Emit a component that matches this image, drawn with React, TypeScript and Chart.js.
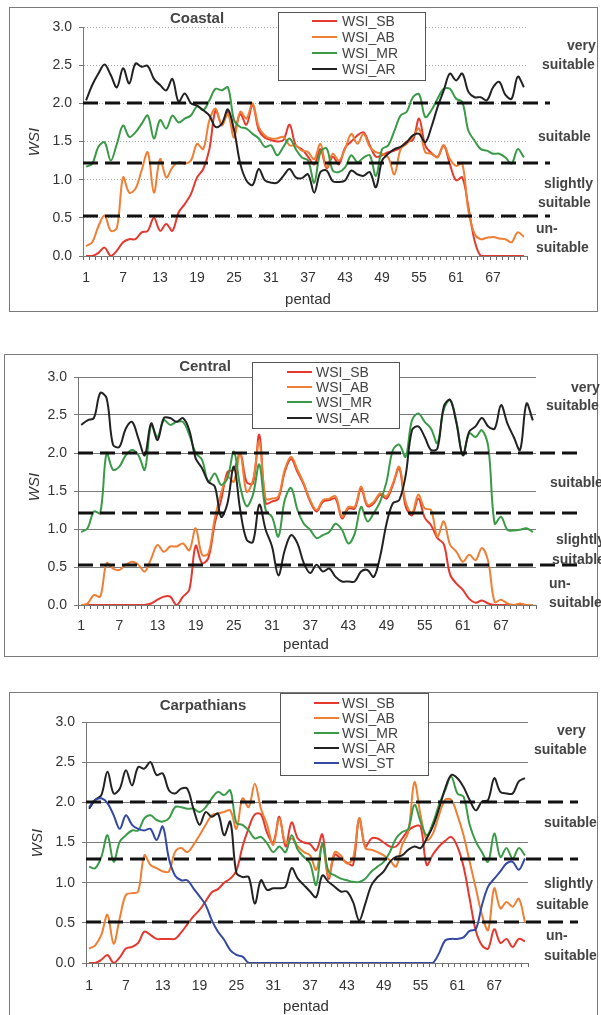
import React, { useEffect, useRef } from 'react';
import { Chart, registerables } from 'chart.js';

Chart.register(...registerables);

const FONT = '"Liberation Sans", Arial, Helvetica, sans-serif';

const pentads = ['1','2','3','4','5','6','7','8','9','10','11','12','13','14','15','16','17','18','19','20','21','22','23','24','25','26','27','28','29','30','31','32','33','34','35','36','37','38','39','40','41','42','43','44','45','46','47','48','49','50','51','52','53','54','55','56','57','58','59','60','61','62','63','64','65','66','67','68','69','70','71','72'];

// ---------- Coastal ----------
const coastalSB = [0,0,0.04,0.11,0,0.07,0.18,0.22,0.22,0.31, 0.33,0.5,0.33,0.42,0.33,0.57,0.68,0.81,1.03,1.14, 1.4,1.91,1.73,1.89,1.64,1.86,1.72,1.98,1.65,1.55, 1.52,1.5,1.52,1.72,1.45,1.4,1.3,1.2,1.4,1.15, 1.3,1.2,1.42,1.5,1.58,1.62,1.45,1.3,1.32,1.36, 1.38,1.42,1.5,1.52,1.8,1.45,1.35,1.3,1.45,1.2, 0.99,1.03,0.64,0.2,0,0,0,0,0,0, 0,0];
const coastalAB = [0.13,0.18,0.39,0.53,0.33,0.37,1.03,0.83,0.88,1.12, 1.36,0.83,1.27,1.03,1.16,1.23,1.21,1.25,1.47,1.4, 1.78,1.93,1.71,1.86,1.55,1.89,1.8,2.0,1.69,1.58, 1.54,1.54,1.56,1.45,1.45,1.38,1.36,1.27,1.47,1.16, 1.34,1.25,1.4,1.6,1.47,1.6,1.43,1.36,1.34,1.29, 1.07,1.4,1.47,1.56,1.67,1.36,1.34,1.29,1.45,1.27, 1.18,1.21,0.59,0.29,0.22,0.24,0.25,0.23,0.22,0.18, 0.31,0.25];
const coastalMR = [1.17,1.21,1.43,1.49,1.25,1.47,1.71,1.56,1.62,1.73, 1.84,1.54,1.78,1.67,1.84,1.75,1.8,1.84,1.96,1.91, 2.04,2.19,2.17,2.21,1.78,1.69,1.67,1.6,1.54,1.43, 1.45,1.32,1.43,1.54,1.4,1.29,1.25,0.96,1.36,1.41, 1.12,1.1,1.16,1.32,1.23,1.29,1.32,1.05,1.4,1.45, 1.64,1.84,1.89,2.08,2.12,1.82,1.91,2.06,2.19,2.19, 2.06,2.02,1.64,1.51,1.4,1.38,1.34,1.34,1.29,1.21, 1.4,1.29];
const coastalAR = [2.04,2.24,2.39,2.51,2.37,2.21,2.46,2.26,2.52,2.48, 2.49,2.32,2.24,2.17,2.32,2.02,2.13,2.0,1.97,1.91, 1.84,1.69,1.73,1.92,1.65,1.21,0.99,0.93,1.14,0.99, 0.96,0.96,1.05,1.14,1.03,1.02,1.07,0.83,1.1,1.12, 0.98,0.97,0.99,1.12,1.07,1.05,1.1,0.9,1.25,1.34, 1.4,1.43,1.49,1.58,1.6,1.49,1.69,1.95,2.17,2.39, 2.3,2.39,2.15,2.08,2.08,2.04,2.21,2.28,2.11,2.06, 2.35,2.21];
const coastalThresholds = [2.0, 1.22, 0.53];

// ---------- Central ----------
const centralSB = [0,0,0,0,0,0,0,0,0,0, 0,0.02,0.07,0.11,0.11,0,0.11,0.2,0.78,0.55, 0.62,1.07,1.38,1.75,1.78,2.0,1.62,1.6,2.24,1.34, 1.36,1.4,1.75,1.92,1.75,1.58,1.36,1.23,1.36,1.38, 1.4,1.14,1.27,1.27,1.53,1.3,1.34,1.45,1.4,1.58, 1.8,1.3,1.18,1.4,1.15,1.05,0.88,0.8,0.4,0.28, 0.2,0.08,0.03,0.06,0.02,0,0,0,0,0, 0,0];
const centralAB = [0,0.02,0.13,0.11,0.55,0.48,0.46,0.53,0.57,0.53, 0.44,0.61,0.79,0.7,0.77,0.77,0.81,0.72,1.01,0.66, 0.68,1.14,1.47,1.69,1.62,2.0,1.49,1.64,2.15,1.4, 1.4,1.43,1.78,1.95,1.78,1.6,1.38,1.25,1.38,1.4, 1.43,1.16,1.29,1.29,1.56,1.32,1.36,1.47,1.43,1.6, 1.82,1.36,1.21,1.45,1.27,1.25,0.9,1.1,0.79,0.7, 0.57,0.66,0.59,0.75,0.57,0.04,0.07,0.02,0,0.02, 0,0];
const centralMR = [0.96,1.01,1.23,1.21,2.0,1.78,1.82,1.97,2.04,1.97, 1.78,2.37,2.21,2.43,2.37,2.41,2.41,2.24,2.0,1.91, 1.62,1.73,1.58,1.67,2.02,1.56,1.3,1.45,1.85,1.25, 1.16,0.9,1.38,1.54,1.25,1.07,0.99,0.88,0.92,0.96, 1.07,0.99,0.81,0.94,1.29,1.1,1.21,1.36,1.62,2.04, 2.11,1.95,2.43,2.52,2.41,2.32,2.13,2.57,2.7,2.41, 1.97,2.26,2.21,2.3,2.08,1.07,1.16,0.99,0.98,0.99, 1.01,0.96];
const centralAR = [2.37,2.43,2.46,2.79,2.72,2.11,2.08,2.32,2.41,2.19, 1.97,2.39,2.17,2.46,2.46,2.41,2.46,2.3,1.93,1.8, 1.62,1.56,1.16,1.34,1.82,1.25,0.86,0.83,1.32,0.99, 0.77,0.39,0.72,0.92,0.81,0.55,0.42,0.53,0.44,0.48, 0.37,0.31,0.31,0.31,0.44,0.46,0.37,0.64,1.07,1.34, 1.38,1.7,2.3,2.35,2.21,2.04,2.06,2.61,2.7,2.39, 1.97,2.28,2.35,2.46,2.35,2.32,2.63,2.39,2.21,2.04, 2.65,2.43];
const centralThresholds = [2.0, 1.21, 0.52];

// ---------- Carpathians ----------
const carpSB = [0,0,0.04,0.1,0,0.07,0.18,0.2,0.25,0.39, 0.35,0.3,0.3,0.3,0.3,0.38,0.48,0.58,0.66,0.77, 0.88,0.92,1.0,1.05,1.15,1.45,1.68,1.85,1.85,1.62, 1.5,1.82,1.45,1.75,1.55,1.5,1.48,1.4,1.6,1.05, 1.35,1.3,1.25,1.22,1.8,1.45,1.55,1.55,1.5,1.45, 1.45,1.55,1.65,1.7,1.7,1.22,1.35,1.45,1.52,1.57, 1.45,1.2,0.8,0.4,0.22,0.18,0.42,0.25,0.3,0.2, 0.3,0.27];
const carpAB = [0.18,0.22,0.35,0.6,0.24,0.56,0.85,0.87,0.89,1.34, 1.22,1.18,1.14,1.14,1.38,1.43,1.38,1.47,1.59,1.72, 1.84,1.86,1.88,1.9,1.67,2.05,1.94,2.23,1.92,1.72, 1.47,1.8,1.49,1.55,1.45,1.38,1.34,1.16,1.47,1.07, 1.38,1.34,1.24,1.3,1.8,1.43,1.41,1.38,1.34,1.28, 1.2,1.47,1.63,2.25,1.84,1.53,1.61,1.84,2.03,2.03, 1.84,1.59,1.26,0.93,0.6,0.41,0.93,0.68,0.76,0.7, 0.8,0.51];
const carpMR = [1.2,1.18,1.32,1.59,1.26,1.51,1.59,1.65,1.65,1.8, 1.84,1.78,1.76,1.8,1.94,1.94,1.92,1.92,1.88,1.94, 2.05,2.13,2.09,2.15,1.74,1.72,1.65,1.55,1.57,1.49, 1.38,1.45,1.38,1.59,1.41,1.32,1.24,0.97,1.49,1.14, 1.09,1.05,1.03,1.01,1.01,1.05,1.14,1.2,1.26,1.38, 1.55,1.63,1.67,1.97,1.76,1.59,1.74,1.97,2.15,2.32, 2.11,2.07,1.72,1.51,1.38,1.26,1.61,1.32,1.43,1.3, 1.43,1.34];
const carpAR = [1.92,2.03,2.09,2.38,2.11,2.17,2.4,2.21,2.44,2.42, 2.5,2.34,2.36,2.15,2.11,2.17,2.17,1.92,1.72,1.88, 1.82,1.86,1.59,1.76,1.12,1.07,1.07,0.74,1.03,0.91, 0.93,0.93,0.95,1.18,1.05,0.97,0.89,0.82,1.09,1.01, 0.95,0.89,0.89,0.76,0.53,0.74,0.97,1.07,1.14,1.26, 1.32,1.34,1.41,1.45,1.43,1.55,1.7,1.92,2.17,2.34, 2.3,2.19,2.03,1.9,2.01,2.03,2.3,2.13,2.11,2.11, 2.26,2.3];
const carpST = [1.94,2.03,2.05,1.99,1.84,1.67,1.84,1.72,1.67,1.65, 1.67,1.53,1.7,1.3,1.09,1.03,1.03,0.93,0.83,0.72, 0.53,0.39,0.29,0.16,0.1,0.08,0,0,0,0, 0,0,0,0,0,0,0,0,0,0, 0,0,0,0,0,0,0,0,0,0, 0,0,0,0,0,0,0,0.12,0.28,0.3, 0.3,0.32,0.4,0.42,0.72,0.95,1.05,1.14,1.24,1.26, 1.16,1.3];
const carpThresholds = [2.0, 1.29, 0.51];

const yTickLabels = ['0.0', '0.5', '1.0', '1.5', '2.0', '2.5', '3.0'];
const classLabels = ['very', 'suitable', 'suitable', 'slightly', 'suitable', 'un-', 'suitable'];

const COLORS: Record<string, string> = {
  WSI_SB: '#e5382f',
  WSI_AB: '#ef7f34',
  WSI_MR: '#3a9a48',
  WSI_AR: '#222222',
  WSI_ST: '#3448a4',
};

type Series = { name: string; values: number[] };

type PanelCfg = {
  title: string;
  titlePos: [number, number];
  box: { left: number; top: number; width: number; height: number };
  area: { yWidth: number; top: number; right: number; xHeight: number };
  xPad: number;
  gridDash: number[];
  gridColor: string;
  extend: number;
  thresholds: number[];
  series: Series[];
  legendBox: { left: number; top: number; width: number; height: number };
  legendLine: [number, number];
  legendText: number;
  legendRows: number[];
  wsiPos: [number, number];
  pentadPos: [number, number];
  classPos: [number, number][];
};

const panels: PanelCfg[] = [
  {
    title: 'Coastal',
    titlePos: [197, 17],
    box: { left: 9, top: 7, width: 589, height: 305 },
    area: { yWidth: 74, top: 20, right: 71, xHeight: 56 },
    xPad: 10,
    gridDash: [1, 2],
    gridColor: '#a8a8a8',
    extend: 23,
    thresholds: coastalThresholds,
    series: [
      { name: 'WSI_SB', values: coastalSB },
      { name: 'WSI_AB', values: coastalAB },
      { name: 'WSI_MR', values: coastalMR },
      { name: 'WSI_AR', values: coastalAR },
    ],
    legendBox: { left: 278, top: 12, width: 148, height: 69 },
    legendLine: [312, 337],
    legendText: 342,
    legendRows: [21, 37, 53, 69],
    wsiPos: [33, 142],
    pentadPos: [308, 298],
    classPos: [[567, 45], [542, 64], [538, 136], [544, 183], [538, 202], [536, 228], [536, 247]],
  },
  {
    title: 'Central',
    titlePos: [205, 365],
    box: { left: 4, top: 354, width: 594, height: 303 },
    area: { yWidth: 74, top: 23, right: 62, xHeight: 52 },
    xPad: 9,
    gridDash: [],
    gridColor: '#7a7a7a',
    extend: 44,
    thresholds: centralThresholds,
    series: [
      { name: 'WSI_SB', values: centralSB },
      { name: 'WSI_AB', values: centralAB },
      { name: 'WSI_MR', values: centralMR },
      { name: 'WSI_AR', values: centralAR },
    ],
    legendBox: { left: 252, top: 362, width: 148, height: 67 },
    legendLine: [287, 312],
    legendText: 316,
    legendRows: [372, 387, 402, 418],
    wsiPos: [33, 487],
    pentadPos: [306, 643],
    classPos: [[571, 387], [546, 405], [550, 482], [556, 539], [552, 559], [549, 583], [549, 602]],
  },
  {
    title: 'Carpathians',
    titlePos: [203, 704],
    box: { left: 9, top: 692, width: 589, height: 330 },
    area: { yWidth: 77, top: 30, right: 70, xHeight: 52 },
    xPad: 11,
    gridDash: [],
    gridColor: '#7a7a7a',
    extend: 50,
    thresholds: carpThresholds,
    series: [
      { name: 'WSI_SB', values: carpSB },
      { name: 'WSI_AB', values: carpAB },
      { name: 'WSI_MR', values: carpMR },
      { name: 'WSI_AR', values: carpAR },
      { name: 'WSI_ST', values: carpST },
    ],
    legendBox: { left: 280, top: 693, width: 149, height: 83 },
    legendLine: [314, 339],
    legendText: 342,
    legendRows: [703, 718, 733, 748, 763],
    wsiPos: [36, 843],
    pentadPos: [306, 1005],
    classPos: [[557, 730], [534, 749], [544, 822], [544, 883], [536, 904], [546, 935], [544, 955]],
  },
];

const thresholdPlugin = {
  id: 'thresholds',
  afterDatasetsDraw(chart: any, _args: any, opts: any) {
    const { ctx, chartArea, scales } = chart;
    const y = scales.y;
    ctx.save();
    ctx.strokeStyle = '#111111';
    ctx.lineWidth = 3;
    ctx.setLineDash([15, 7]);
    for (const v of opts.values as number[]) {
      const py = Math.round(y.getPixelForValue(v));
      ctx.beginPath();
      ctx.moveTo(chartArea.left, py);
      ctx.lineTo(chartArea.right + opts.extend, py);
      ctx.stroke();
    }
    ctx.restore();
  },
};

function Panel({ cfg }: { cfg: PanelCfg }) {
  const ref = useRef<HTMLCanvasElement>(null);
  const canvasH = Math.min(cfg.box.height, 1015 - cfg.box.top);

  useEffect(() => {
    if (!ref.current) return;
    const n = cfg.series.length;
    const chart = new Chart(ref.current, {
      type: 'line',
      data: {
        labels: pentads,
        datasets: cfg.series.map((s, i) => ({
          label: s.name,
          data: s.values,
          borderColor: COLORS[s.name],
          backgroundColor: COLORS[s.name],
          borderWidth: 2,
          pointRadius: 0,
          tension: 0.35,
          fill: false,
          order: n - i,
        })),
      },
      options: {
        responsive: false,
        animation: false,
        events: [],
        layout: { padding: { left: 0, top: cfg.area.top, right: cfg.area.right, bottom: 0 } },
        plugins: {
          legend: { display: false },
          tooltip: { enabled: false },
          thresholds: { values: cfg.thresholds, extend: cfg.extend },
        } as any,
        scales: {
          x: {
            type: 'category',
            offset: true,
            grid: { display: true, offset: true, drawOnChartArea: false, drawTicks: true, tickLength: 4, color: '#666', lineWidth: 1 },
            border: { display: true, color: '#777', width: 1 },
            ticks: {
              autoSkip: false,
              maxRotation: 0,
              minRotation: 0,
              padding: cfg.xPad,
              color: '#333',
              font: { family: FONT, size: 14 },
              callback: (_v: any, i: number) => (i % 6 === 0 ? pentads[i] : ''),
            },
            afterFit: (s: any) => { s.height = cfg.area.xHeight; },
          },
          y: {
            min: 0,
            max: 3,
            ticks: {
              stepSize: 0.5,
              padding: 7,
              color: '#333',
              font: { family: FONT, size: 14 },
              callback: (_v: any, i: number) => yTickLabels[i],
            },
            grid: { color: cfg.gridColor, lineWidth: 1, tickLength: 4, drawTicks: true, tickColor: '#777' },
            border: { display: true, color: '#777', width: 1, dash: cfg.gridDash },
            afterFit: (s: any) => { s.width = cfg.area.yWidth; },
          },
        },
      } as any,
      plugins: [thresholdPlugin],
    });
    return () => chart.destroy();
  }, []);

  const abs = (x: number, y: number, extra: React.CSSProperties = {}): React.CSSProperties => ({
    position: 'absolute', left: x, top: y, whiteSpace: 'nowrap', lineHeight: 1, ...extra,
  });

  return (
    <>
      <canvas
        ref={ref}
        width={cfg.box.width}
        height={canvasH}
        style={{ position: 'absolute', left: cfg.box.left, top: cfg.box.top, width: cfg.box.width, height: canvasH }}
      />
      <div
        style={{
          position: 'absolute', left: cfg.box.left, top: cfg.box.top, width: cfg.box.width - 2, height: cfg.box.height - 2,
          border: '1px solid #7a7a7a', pointerEvents: 'none',
        }}
      />
      <div style={abs(cfg.titlePos[0], cfg.titlePos[1], { transform: 'translate(-50%, -50%)', fontFamily: FONT, fontWeight: 'bold', fontSize: 15, color: '#444' })}>
        {cfg.title}
      </div>
      <div style={abs(cfg.wsiPos[0], cfg.wsiPos[1], { transform: 'translate(-50%, -50%) rotate(-90deg)', fontFamily: FONT, fontStyle: 'italic', fontSize: 15, color: '#333' })}>
        WSI
      </div>
      <div style={abs(cfg.pentadPos[0], cfg.pentadPos[1], { transform: 'translate(-50%, -50%)', fontFamily: FONT, fontSize: 15, color: '#333' })}>
        pentad
      </div>
      {classLabels.map((t, i) => (
        <div key={'c' + i} style={abs(cfg.classPos[i][0], cfg.classPos[i][1], { transform: 'translateY(-50%)', fontFamily: FONT, fontWeight: 'bold', fontSize: 14, color: '#444' })}>
          {t}
        </div>
      ))}
      <div
        style={{
          position: 'absolute', left: cfg.legendBox.left, top: cfg.legendBox.top, width: cfg.legendBox.width - 2, height: cfg.legendBox.height - 2,
          border: '1px solid #555', background: '#fff',
        }}
      />
      {cfg.series.map((s, i) => (
        <React.Fragment key={'l' + i}>
          <div style={{ position: 'absolute', left: cfg.legendLine[0], top: cfg.legendRows[i] - 1, width: cfg.legendLine[1] - cfg.legendLine[0], height: 2, background: COLORS[s.name] }} />
          <div style={abs(cfg.legendText, cfg.legendRows[i], { transform: 'translateY(-50%)', fontFamily: FONT, fontSize: 14, color: '#444' })}>
            {s.name}
          </div>
        </React.Fragment>
      ))}
    </>
  );
}

export default function App() {
  return (
    <div style={{ position: 'absolute', left: 0, top: 0, width: 601, height: 1015, overflow: 'hidden', background: '#fff' }}>
      {panels.map((p) => (
        <Panel key={p.title} cfg={p} />
      ))}
    </div>
  );
}
